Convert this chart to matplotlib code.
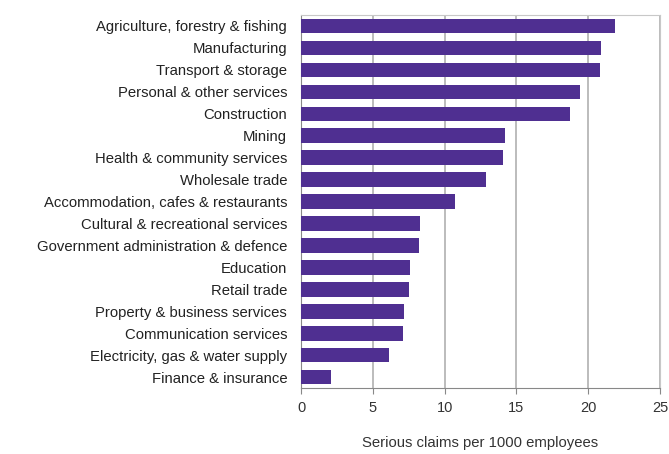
import matplotlib.pyplot as plt

plt.rcParams['font.family'] = ['Liberation Sans', 'DejaVu Sans']

industries = [
    'Agriculture, forestry & fishing',
    'Manufacturing',
    'Transport & storage',
    'Personal & other services',
    'Construction',
    'Mining',
    'Health & community services',
    'Wholesale trade',
    'Accommodation, cafes & restaurants',
    'Cultural & recreational services',
    'Government administration & defence',
    'Education',
    'Retail trade',
    'Property & business services',
    'Communication services',
    'Electricity, gas & water supply',
    'Finance & insurance',
]
claims = [21.9, 20.9, 20.8, 19.4, 18.7, 14.2, 14.1, 12.9, 10.7,
          8.3, 8.2, 7.6, 7.5, 7.2, 7.1, 6.1, 2.1]

fig = plt.figure(figsize=(6.69, 4.54), dpi=100)
ax = fig.add_axes([0.45, 0.145, 0.5365, 0.822])

y = range(len(industries))
ax.barh(y, claims, height=0.66, color='#4f2f91', zorder=3)
ax.set_yticks(list(y))
ax.set_yticklabels(industries, fontsize=10.7, color='#222222')
ax.set_ylim(len(industries) - 0.5, -0.5)
ax.set_xlim(0, 25)
ax.set_xticks([0, 5, 10, 15, 20, 25])
ax.tick_params(axis='x', labelsize=10.5, colors='#333333', length=4, color='#888888', pad=5)
ax.tick_params(axis='y', length=0, pad=10)
ax.grid(axis='x', color='#b0b0b0', linewidth=1.2, zorder=0)

# light frame on top/right, darker axis lines
for side in ['top', 'right']:
    ax.spines[side].set_color('#c8c8c8')
ax.spines['left'].set_color('#888888')
ax.spines['bottom'].set_color('#888888')

ax.set_xlabel('Serious claims per 1000 employees', fontsize=10.7, color='#333333', labelpad=15)

fig.savefig('out.png', dpi=100)
